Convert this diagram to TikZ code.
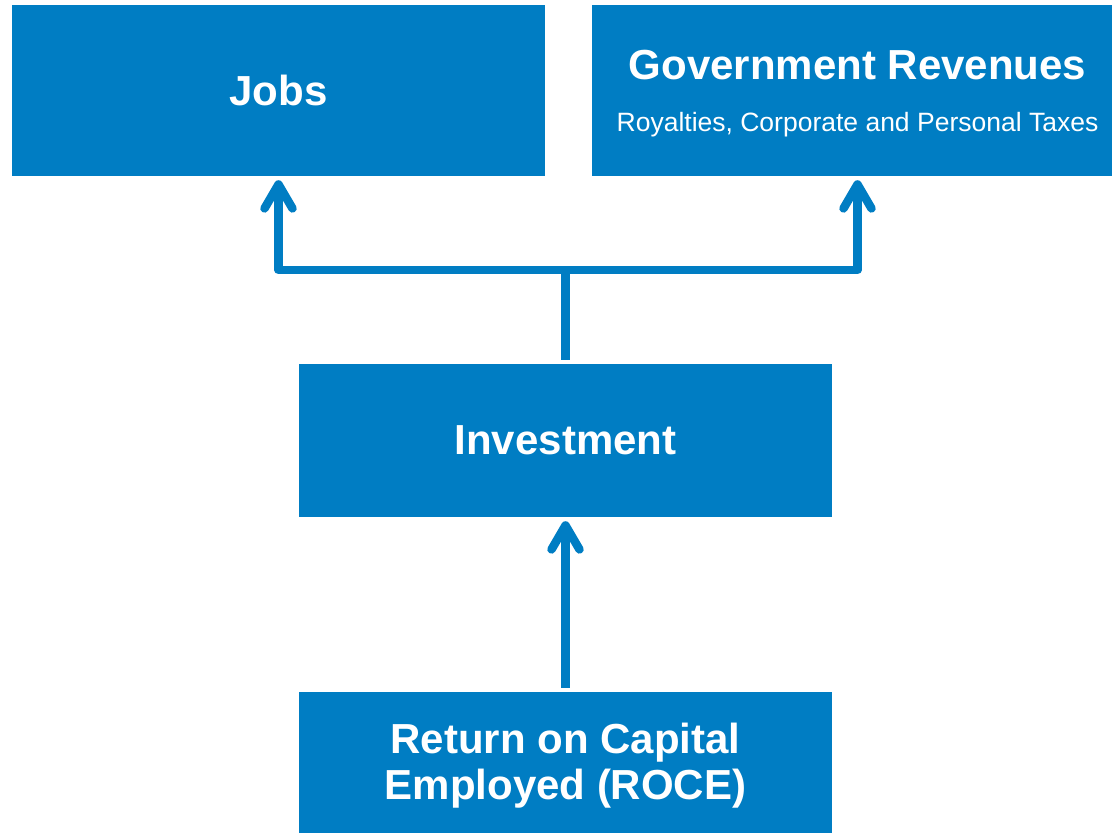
\documentclass[tikz,border=0pt]{standalone}
\usepackage{fontspec}
\setmainfont{Liberation Sans}
\usetikzlibrary{arrows.meta}
\definecolor{roceblue}{RGB}{0,125,195}
\tikzset{
	box/.style={
		fill=roceblue,
		text=white,
		inner sep=0pt,
		align=center,
		font=\fontsize{42}{46}\selectfont\bfseries,
	},
	stem/.style={
		draw=roceblue,
		line width=8.5pt,
	},
	flow/.style={
		stem,
		line join=round,
		shorten >=4pt,
		-{Straight Barb[length=24pt,width=28pt,round]}
	},
}

\begin{document}
\begin{tikzpicture}[x=1pt,y=-1pt]
	\useasboundingbox (0,0) rectangle (1112,833);
	\clip (0,0) rectangle (1112,833);

	\node[box,minimum width=533pt,minimum height=171pt] (jobs) at (278.5,90.5) {Jobs};
	% right box runs past the page edge, so its text sits off centre
	\node[box,minimum width=531pt,minimum height=171pt] (govrev) at (857.5,90.5)
		{\rule{0pt}{36pt}Government Revenues\\[6pt]{\fontsize{26.5}{30}\selectfont\mdseries Royalties, Corporate and Personal Taxes}};

	\node[box,minimum width=533pt,minimum height=153pt] (invest) at (565.5,440.5) {Investment};
	\node[box,minimum width=533pt,minimum height=147pt] (roce) at (565.5,765.5) {Return on Capital\\Employed (ROCE)};

	\coordinate (split) at (565.5,270);

	\draw[stem,shorten <=4pt] (invest.north) -- (split);
	\draw[flow] (split) -| (jobs.south);
	\draw[flow] (split) -| (govrev.south);
	\draw[flow,shorten <=4pt] (roce.north) -- (invest.south);
\end{tikzpicture}
\end{document}
